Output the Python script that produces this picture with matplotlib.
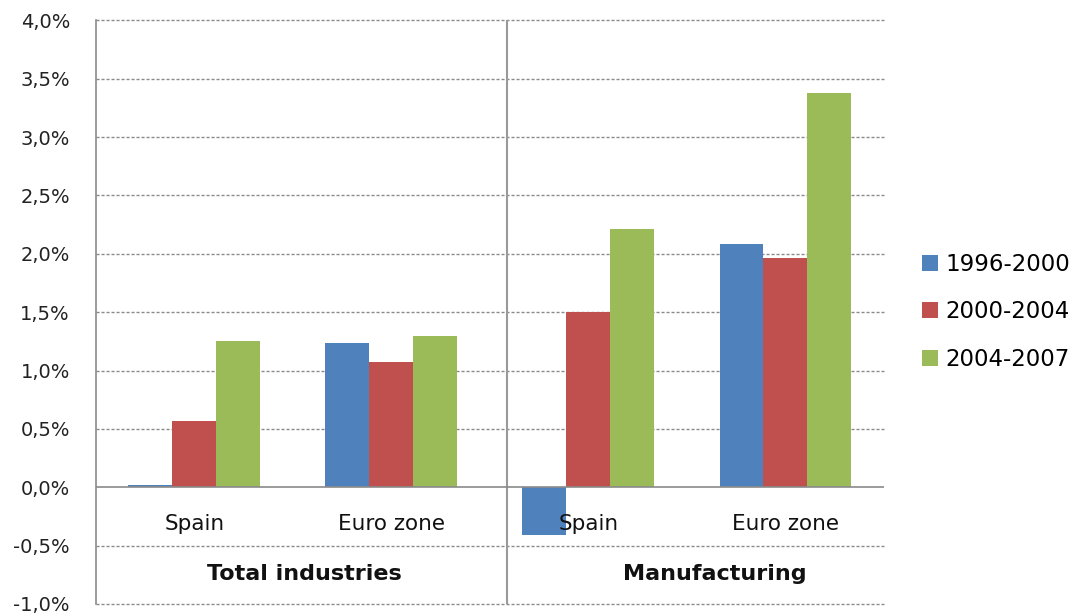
import numpy as np
import matplotlib
matplotlib.use("Agg")
import matplotlib.pyplot as plt
from matplotlib.patches import Patch
from matplotlib.ticker import FuncFormatter

plt.rcParams['font.family'] = ['DejaVu Sans']
plt.rcParams['lines.scale_dashes'] = False

# growth rates (%) by period
categories = ['Spain', 'Euro zone', 'Spain', 'Euro zone']
groups = ['Total industries', 'Manufacturing']
periods = ['1996-2000', '2000-2004', '2004-2007']
p1996_2000 = [0.02, 1.235, -0.405, 2.085]
p2000_2004 = [0.57, 1.075, 1.50, 1.96]
p2004_2007 = [1.255, 1.295, 2.21, 3.375]
series = [p1996_2000, p2000_2004, p2004_2007]
colors = ['#4F81BD', '#C0504D', '#9BBB59']

grid_col = '#8a8a8a'

fig = plt.figure(figsize=(10.74, 6.15), dpi=100)
ax = fig.add_axes([0.0891, 0.0179, 0.7340, 0.9491])

x = np.arange(len(categories))
w = 0.223
for i, vals in enumerate(series):
    ax.bar(x + (i - 1) * w, vals, width=w, color=colors[i], zorder=3,
           linewidth=0)

ax.set_xlim(-0.5, 3.5)
ax.set_ylim(-1.0, 4.0)
ax.set_yticks(np.arange(-1.0, 4.01, 0.5))
ax.yaxis.set_major_formatter(FuncFormatter(
    lambda v, _: ('%.1f%%' % v).replace('.', ',').replace('-0,0', '0,0')))
ax.tick_params(axis='y', length=0, pad=18.5, labelsize=14, labelcolor='#222222')
ax.set_xticks([])

for v in np.arange(-1.0, 4.01, 0.5):
    if abs(v) < 1e-9:
        continue
    ax.axhline(v, color=grid_col, linewidth=1.0, dashes=(2.2, 1.4), zorder=1,
               clip_on=False)
ax.axhline(0, color=grid_col, linewidth=1.2, zorder=4)

for side in ['top', 'right', 'bottom']:
    ax.spines[side].set_visible(False)
ax.spines['left'].set_color(grid_col)
ax.spines['left'].set_linewidth(1.2)

# divider between the two industry groups
ax.axvline(1.585, color='#999999', linewidth=1.5, zorder=2)

for xi, name in zip(x, categories):
    ax.text(xi, -0.314, name, ha='center', va='center', fontsize=15.5,
            color='#111111')
for xg, name in zip([0.557, 2.64], groups):
    ax.text(xg, -0.742, name, ha='center', va='center', fontsize=16,
            fontweight='bold', color='#111111')

handles = [Patch(facecolor=c, edgecolor='none') for c in colors]
fig.legend(handles, periods, loc='center left', bbox_to_anchor=(0.8585, 0.4927),
           frameon=False, fontsize=16.5, handlelength=0.7, handleheight=0.7,
           handletextpad=0.3, labelspacing=1.08, borderpad=0, borderaxespad=0)

fig.savefig('out.png', dpi=100)
